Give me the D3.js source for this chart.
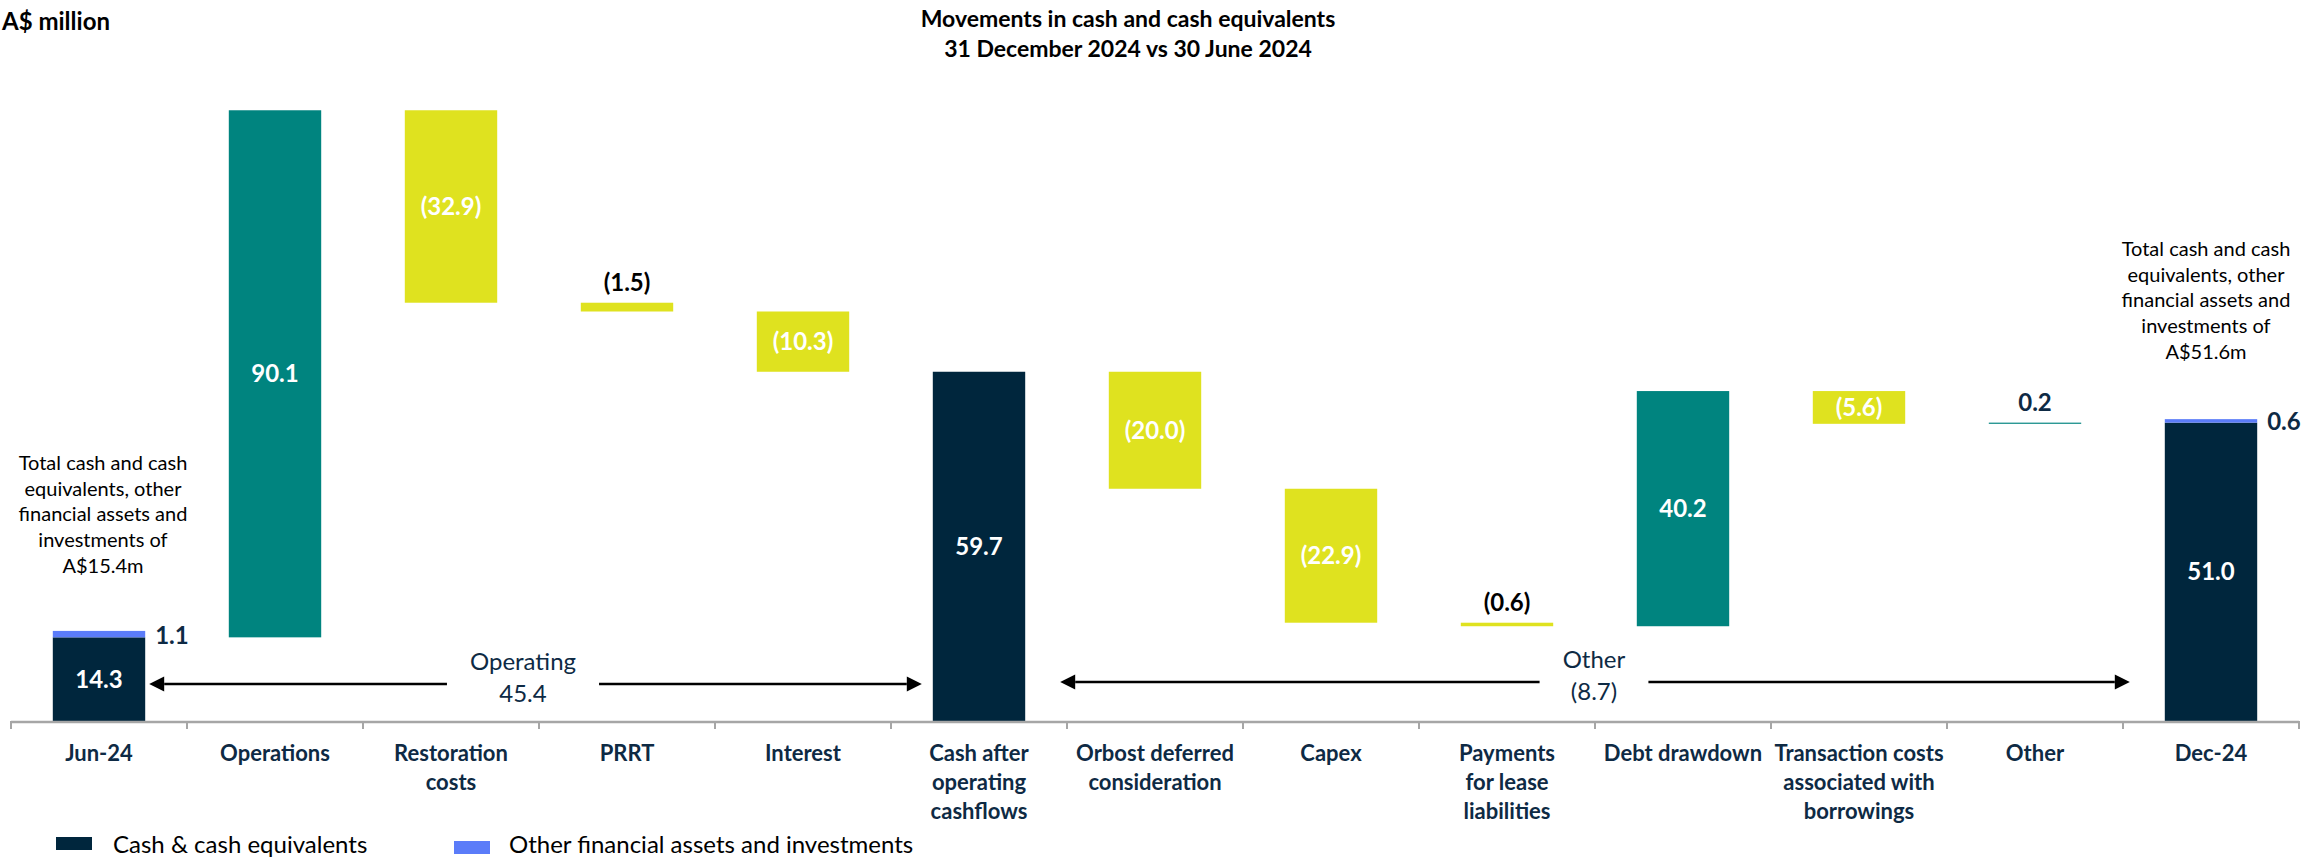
<!DOCTYPE html>
<html>
<head>
<meta charset="utf-8">
<script src="https://cdn.jsdelivr.net/npm/d3@7"></script>
<style>
  html, body { margin: 0; padding: 0; background: #ffffff; }
  svg { display: block; font-family: Lato, "Open Sans", "Noto Sans", sans-serif; }
</style>
</head>
<body>
<svg id="chart" width="2305" height="860"></svg>
<script>
// ---- Data (A$ million) ----
const categories = [
  "Jun-24", "Operations", "Restoration costs", "PRRT", "Interest",
  "Cash after operating cashflows", "Orbost deferred consideration", "Capex",
  "Payments for lease liabilities", "Debt drawdown",
  "Transaction costs associated with borrowings", "Other", "Dec-24"
];
const categoryLines = [
  ["Jun-24"], ["Operations"], ["Restoration", "costs"], ["PRRT"], ["Interest"],
  ["Cash after", "operating", "cashflows"], ["Orbost deferred", "consideration"], ["Capex"],
  ["Payments", "for lease", "liabilities"], ["Debt drawdown"],
  ["Transaction costs", "associated with", "borrowings"], ["Other"], ["Dec-24"]
];
// "total" bars start at zero; the others move the running balance
const barKinds = [
  "total", "increase", "decrease", "decrease", "decrease",
  "total", "decrease", "decrease", "decrease", "increase",
  "decrease", "increase", "total"
];
const barValues = [14.3, 90.1, -32.9, -1.5, -10.3, 59.7, -20.0, -22.9, -0.6, 40.2, -5.6, 0.2, 51.0];
// Other financial assets and investments stacked on the opening / closing cash
const otherAssets = [1.1, null, null, null, null, null, null, null, null, null, null, null, 0.6];

const groupNames = ["Operating", "Other"];
const groupValues = [45.4, -8.7];

const legendLabels = ["Cash & cash equivalents", "Other financial assets and investments"];

const openingNote = ["Total cash and cash", "equivalents, other", "financial assets and", "investments of", "A$15.4m"];
const closingNote = ["Total cash and cash", "equivalents, other", "financial assets and", "investments of", "A$51.6m"];

// ---- Styling ----
const C = {
  navy: "#00263D",
  teal: "#00847F",
  yellow: "#DFE21F",
  blue: "#5B7CF9",
  axis: "#A6A6A6",
  labelNavy: "#0E2A44",
  black: "#000000"
};
const fmt = v => v < 0 ? "(" + Math.abs(v).toFixed(1) + ")" : v.toFixed(1);

const svg = d3.select("#chart");

// ---- Scales ----
const baseY = 721;
const x = d3.scaleBand().domain(categories).range([11, 2299]).padding(0);
const y = d3.scaleLinear().domain([0, 110]).range([baseY, baseY - 110 * 5.85]);
const barW = x.bandwidth() * 0.525;
const cx = c => x(c) + x.bandwidth() / 2;

// ---- Waterfall geometry ----
let running = 0;
const bars = categories.map((c, i) => {
  const k = barKinds[i], v = barValues[i];
  let start, end;
  if (k === "total") { start = 0; end = v; running = v; }
  else { start = running; end = running + v; running = end; }
  return { cat: c, kind: k, value: v, lo: Math.min(start, end), hi: Math.max(start, end), extra: otherAssets[i] };
});
const fillOf = b => b.kind === "total" ? C.navy : (b.kind === "increase" ? C.teal : C.yellow);

// ---- Titles ----
svg.append("text").attr("x", 2).attr("y", 30)
  .attr("font-size", 24).attr("font-weight", 700).attr("fill", C.black)
  .text("A$ million");
const title = svg.append("text").attr("text-anchor", "middle")
  .attr("font-size", 23).attr("font-weight", 700).attr("fill", C.black);
title.append("tspan").attr("x", 1128).attr("y", 27).text("Movements in cash and cash equivalents");
title.append("tspan").attr("x", 1128).attr("y", 57).text("31 December 2024 vs 30 June 2024");

// ---- Bars ----
const g = svg.append("g");
g.selectAll("rect.bar").data(bars).join("rect")
  .attr("class", "bar")
  .attr("x", d => cx(d.cat) - barW / 2)
  .attr("width", barW)
  .attr("y", d => y(d.hi))
  .attr("height", d => y(d.lo) - y(d.hi))
  .attr("fill", fillOf);

// stacked other financial assets
const stacked = bars.filter(d => d.extra != null);
g.selectAll("rect.extra").data(stacked).join("rect")
  .attr("class", "extra")
  .attr("x", d => cx(d.cat) - barW / 2)
  .attr("width", barW)
  .attr("y", d => y(d.hi + d.extra))
  .attr("height", d => y(d.hi) - y(d.hi + d.extra))
  .attr("fill", C.blue);

// ---- Value labels ----
bars.forEach(d => {
  const h = y(d.lo) - y(d.hi);
  const t = g.append("text").attr("x", cx(d.cat)).attr("text-anchor", "middle")
    .attr("font-size", 24).attr("font-weight", 700).text(fmt(d.value));
  if (h >= 25) {
    t.attr("y", (y(d.lo) + y(d.hi)) / 2).attr("dy", "0.35em").attr("fill", "#ffffff");
  } else {
    t.attr("y", y(d.hi) - 20).attr("dy", "0.35em")
      .attr("fill", d.kind === "decrease" ? C.black : C.labelNavy);
  }
});
stacked.forEach(d => {
  g.append("text")
    .attr("x", cx(d.cat) + barW / 2 + 10)
    .attr("y", (y(d.hi) + y(d.hi + d.extra)) / 2 + 1)
    .attr("dy", "0.35em")
    .attr("font-size", 24).attr("font-weight", 700).attr("fill", C.labelNavy)
    .text(fmt(d.extra));
});

// ---- Axis ----
const axisG = svg.append("g");
axisG.append("line").attr("x1", x.range()[0]).attr("x2", x.range()[1])
  .attr("y1", baseY + 1).attr("y2", baseY + 1)
  .attr("stroke", C.axis).attr("stroke-width", 2.5);
const edges = categories.map(c => x(c)).concat([x.range()[1]]);
axisG.selectAll("line.tick").data(edges).join("line")
  .attr("class", "tick")
  .attr("x1", d => d).attr("x2", d => d)
  .attr("y1", baseY).attr("y2", baseY + 8)
  .attr("stroke", C.axis).attr("stroke-width", 2);

categories.forEach((c, i) => {
  const t = axisG.append("text").attr("text-anchor", "middle")
    .attr("font-size", 22).attr("font-weight", 700).attr("fill", C.labelNavy);
  categoryLines[i].forEach((line, j) => {
    t.append("tspan").attr("x", cx(c)).attr("y", 761 + j * 29).text(line);
  });
});

// ---- Bracket arrows for the operating and other groups ----
function drawBracket(fromCat, toCat, yLine, padL, padR, centerX, name, value) {
  const xl = cx(fromCat) + barW / 2 + padL;
  const xr = cx(toCat) - barW / 2 - padR;
  const ag = svg.append("g");
  const label = ag.append("text").attr("text-anchor", "middle")
    .attr("font-size", 24).attr("fill", C.labelNavy);
  label.append("tspan").attr("x", centerX).attr("y", yLine - 14).text(name);
  label.append("tspan").attr("x", centerX).attr("y", yLine + 18).text(fmt(value));
  const tw = label.node().getBBox().width;
  const gapL = centerX - tw / 2 - 23, gapR = centerX + tw / 2 + 23;
  const head = 15;
  ag.append("line").attr("x1", xl + head).attr("x2", gapL).attr("y1", yLine).attr("y2", yLine)
    .attr("stroke", C.black).attr("stroke-width", 2.6);
  ag.append("line").attr("x1", gapR).attr("x2", xr - head).attr("y1", yLine).attr("y2", yLine)
    .attr("stroke", C.black).attr("stroke-width", 2.6);
  ag.append("path")
    .attr("d", `M${xl},${yLine} L${xl + head},${yLine - 7.5} L${xl + head},${yLine + 7.5} Z`)
    .attr("fill", C.black);
  ag.append("path")
    .attr("d", `M${xr},${yLine} L${xr - head},${yLine - 7.5} L${xr - head},${yLine + 7.5} Z`)
    .attr("fill", C.black);
}
drawBracket("Jun-24", "Cash after operating cashflows", 684, 4, 11, 523, groupNames[0], groupValues[0]);
drawBracket("Cash after operating cashflows", "Dec-24", 682, 35, 35, 1594, groupNames[1], groupValues[1]);

// ---- Notes on the opening and closing balances ----
function note(lines, centerX, firstBaseline) {
  const t = svg.append("text").attr("text-anchor", "middle")
    .attr("font-size", 20).attr("fill", C.black);
  lines.forEach((l, j) => t.append("tspan").attr("x", centerX).attr("y", firstBaseline + j * 25.7).text(l));
}
note(openingNote, 103, 470);
note(closingNote, 2206, 256);

// ---- Legend ----
const legend = svg.append("g");
const legendItems = [
  { label: legendLabels[0], color: C.navy, sx: 56, sy: 837, tx: 113 },
  { label: legendLabels[1], color: C.blue, sx: 454, sy: 841, tx: 509 }
];
legendItems.forEach(d => {
  legend.append("rect").attr("x", d.sx).attr("y", d.sy).attr("width", 36).attr("height", 13).attr("fill", d.color);
  legend.append("text").attr("x", d.tx).attr("y", 853)
    .attr("font-size", 24).attr("fill", C.black).text(d.label);
});
</script>
</body>
</html>
